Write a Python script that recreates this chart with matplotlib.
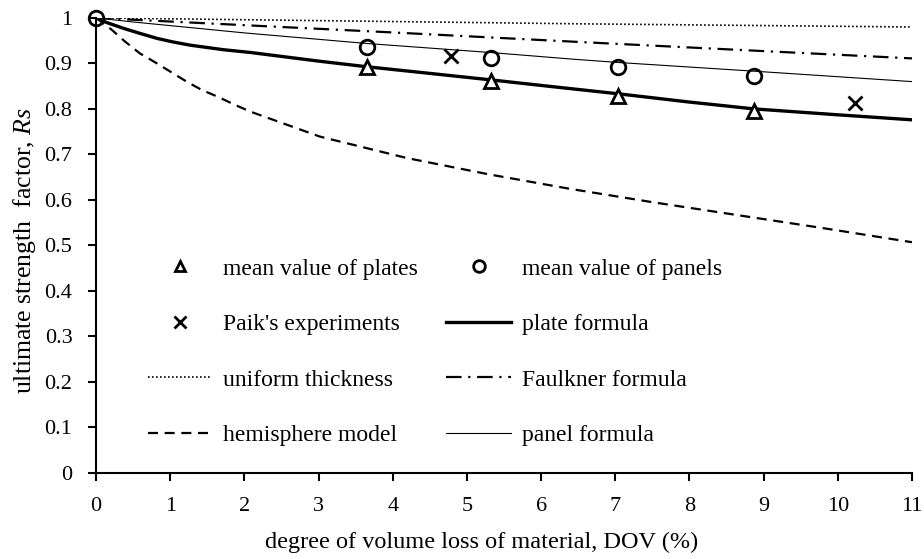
import matplotlib
matplotlib.use("Agg")
import matplotlib.pyplot as plt

plt.rcParams['font.family'] = ['Liberation Serif', 'DejaVu Serif']
plt.rcParams['mathtext.fontset'] = 'custom'
plt.rcParams['mathtext.it'] = 'Liberation Serif:italic'
plt.rcParams['mathtext.rm'] = 'Liberation Serif'

# test results (DOV %, Rs)
plates_x = [3.65, 5.32, 7.03, 8.87]
plates_y = [0.893, 0.862, 0.829, 0.796]
panels_x = [0.0, 3.65, 5.32, 7.03, 8.87]
panels_y = [1.0, 0.937, 0.911, 0.892, 0.872]
paik_x = [4.78, 10.23]
paik_y = [0.916, 0.812]

# formula curves
uniform_x = [0, 2, 6.5, 11]
uniform_y = [1.0, 0.996, 0.987, 0.980]
faulkner_x = [0, 2, 4, 6.4, 8, 11]
faulkner_y = [1.0, 0.984, 0.968, 0.948, 0.935, 0.911]
hemi_x = [0, 0.21, 0.39, 0.59, 0.82, 1.0, 1.22, 1.42, 1.65, 1.87, 2.08,
          3.02, 4.19, 5.3, 6.4, 7.5, 8.63, 9.8, 11]
hemi_y = [1.0, 0.974, 0.948, 0.922, 0.900, 0.882, 0.860, 0.842, 0.826, 0.809, 0.794,
          0.739, 0.692, 0.656, 0.624, 0.595, 0.567, 0.538, 0.507]
plate_x = [0, 0.14, 0.37, 0.59, 0.82, 1.04, 1.27, 1.72, 2.08, 3.0, 3.63, 4.5, 5.31,
           6.2, 7.05, 8.0, 8.87, 10.0, 11]
plate_y = [1.0, 0.990, 0.977, 0.966, 0.955, 0.947, 0.940, 0.930, 0.924, 0.905, 0.893,
           0.878, 0.864, 0.848, 0.833, 0.815, 0.800, 0.787, 0.776]
panel_x = [0, 0.5, 1, 2, 3.63, 5.31, 6.45, 7.04, 8.86, 11]
panel_y = [1.0, 0.991, 0.983, 0.967, 0.944, 0.924, 0.909, 0.902, 0.883, 0.860]

fig = plt.figure(figsize=(9.24, 5.59), dpi=100)
ax = fig.add_axes([0.104, 0.154, 0.883, 0.814])

h_plates, = ax.plot(plates_x, plates_y, ls='none', marker='^', ms=9.5, mfc='white',
                    mec='black', mew=2, label='mean value of plates', zorder=5)
h_panels, = ax.plot(panels_x, panels_y, ls='none', marker='o', ms=10.5, mfc='none',
                    mec='black', mew=2, label='mean value of panels', zorder=5,
                    clip_on=False)
h_paik, = ax.plot(paik_x, paik_y, ls='none', marker='x', ms=10, mec='black',
                  mew=2, label="Paik's experiments", zorder=5)
h_plate, = ax.plot(plate_x, plate_y, color='black', lw=2.4, label='plate formula')
h_uni, = ax.plot(uniform_x, uniform_y, color='black', lw=1.2, ls=(0, (1, 1.4)),
                 label='uniform thickness')
h_faul, = ax.plot(faulkner_x, faulkner_y, color='black', lw=1.6,
                  ls=(0, (7, 3, 1, 3)), label='Faulkner formula')
h_hemi, = ax.plot(hemi_x, hemi_y, color='black', lw=1.6, ls=(0, (4.5, 3)),
                  label='hemisphere model')
h_panel, = ax.plot(panel_x, panel_y, color='black', lw=0.8, label='panel formula')

ax.set_xlim(0, 11)
ax.set_ylim(0, 1)
ax.set_xticks(range(0, 12))
ax.set_yticks([i / 10 for i in range(11)])
ax.set_yticklabels(['0', '0.1', '0.2', '0.3', '0.4', '0.5', '0.6', '0.7', '0.8', '0.9', '1'])
ax.spines['top'].set_visible(False)
ax.spines['right'].set_visible(False)
ax.spines['left'].set_linewidth(1.5)
ax.spines['bottom'].set_linewidth(1.5)
ax.tick_params(direction='out', length=6, width=1.5, labelsize=16, pad=11)

ax.set_xlabel('degree of volume loss of material, DOV (%)', fontsize=17.5, labelpad=12)
ax.xaxis.label.set_x(0.472)
ax.set_ylabel(r'ultimate strength  factor, $\mathit{Rs}$', fontsize=18.5, labelpad=5)
ax.yaxis.label.set_y(0.489)

handles = [h_plates, h_paik, h_uni, h_hemi, h_panels, h_plate, h_faul, h_panel]
leg = ax.legend(handles=handles, ncol=2, frameon=False, fontsize=17,
                loc='upper left', bbox_to_anchor=(0.037, 0.519),
                handlelength=2.75, handletextpad=0.45, columnspacing=1.2,
                labelspacing=1.44, markerscale=0.8)

fig.savefig('out.png', dpi=100)
